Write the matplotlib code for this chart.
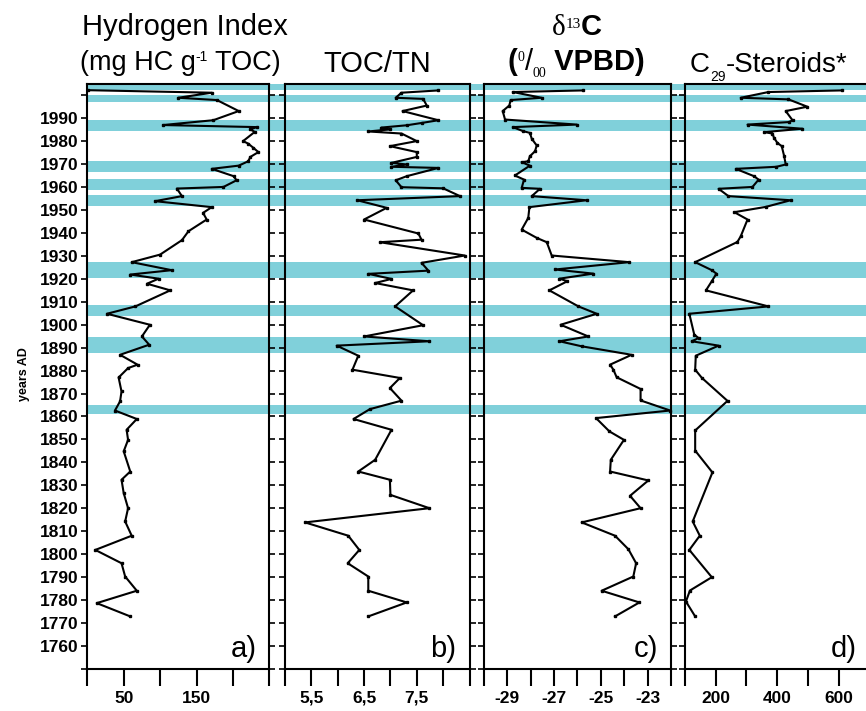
import matplotlib
matplotlib.use("Agg")
import matplotlib.pyplot as plt
from matplotlib.patches import Rectangle
from matplotlib.text import Annotation
from matplotlib import transforms

plt.rcParams['font.family'] = ['Liberation Sans', 'DejaVu Sans']

# ---- data ----
years_hi = [2002.3, 2001.2, 1999.0, 1998.0, 1993.2, 1989.2, 1987.1, 1986.2, 1985.2, 1984.1,
            1980.1, 1979.0, 1977.2, 1975.3, 1973.2, 1971.3, 1969.4, 1968.0, 1964.8, 1963.0,
            1960.1, 1959.4, 1956.1, 1953.9, 1951.3, 1948.8, 1945.9, 1940.8, 1936.9, 1930.6,
            1927.3, 1923.8, 1921.9, 1920.1, 1917.9, 1915.0, 1908.0, 1904.8, 1900.0, 1894.9,
            1891.3, 1886.9, 1882.6, 1881.1, 1877.0, 1870.9, 1866.6, 1862.6, 1858.9, 1854.2,
            1849.8, 1844.8, 1836.0, 1832.4, 1826.6, 1820.0, 1814.2, 1808.0, 1801.8, 1796.0,
            1790.2, 1784.0, 1778.6, 1772.8]
hi = [1, 171, 125, 178, 208, 173, 104, 233, 224, 230,
      214, 221, 228, 235, 224, 221, 208, 171, 201, 205,
      187, 123, 130, 93, 171, 159, 164, 139, 130, 100,
      61, 116, 59, 98, 82, 114, 66, 27, 86, 75,
      85, 45, 69, 56, 43, 47, 45, 38, 68, 54,
      56, 50, 59, 47, 50, 56, 52, 61, 11, 47,
      52, 68, 13, 59]

years_cn = [2002.2, 2001.2, 1999.0, 1998.5, 1995.6, 1993.2, 1989.2, 1988.0, 1987.0, 1986.0,
            1985.2, 1984.3, 1983.4, 1980.1, 1977.9, 1975.3, 1973.2, 1970.6, 1969.9, 1968.9,
            1968.4, 1964.8, 1963.0, 1960.0, 1959.5, 1956.1, 1954.3, 1951.0, 1945.9, 1939.8,
            1937.1, 1936.0, 1930.2, 1927.0, 1923.6, 1922.2, 1920.0, 1918.2, 1915.0, 1908.0,
            1899.8, 1894.9, 1892.8, 1890.9, 1886.5, 1880.4, 1876.8, 1872.4, 1866.9, 1863.2,
            1858.9, 1854.2, 1841.1, 1836.0, 1832.4, 1825.8, 1820.0, 1813.8, 1808.0, 1801.8,
            1796.0, 1790.2, 1784.0, 1778.9, 1772.8]
toc_tn = [7.91, 7.21, 7.10, 7.62, 7.69, 7.23, 7.91, 7.59, 7.31, 6.83,
          6.99, 6.58, 7.21, 7.50, 6.99, 7.50, 7.50, 7.02, 7.31, 7.02,
          7.91, 7.31, 7.10, 7.21, 8.00, 8.32, 6.37, 6.93, 6.50, 7.53,
          7.59, 6.80, 8.41, 7.59, 7.72, 6.58, 7.02, 6.71, 7.43, 7.09,
          7.62, 6.50, 7.74, 5.98, 6.39, 6.28, 7.18, 6.99, 7.21, 6.61,
          6.30, 7.02, 6.71, 6.39, 6.99, 7.00, 7.74, 5.38, 6.20, 6.41,
          6.19, 6.58, 6.58, 7.31, 6.58]

years_c13 = [2002.2, 2001.5, 1999.0, 1998.0, 1995.6, 1993.2, 1989.5, 1987.3, 1986.2, 1984.4,
             1983.7, 1981.1, 1978.2, 1975.7, 1973.5, 1971.3, 1970.9, 1969.4, 1965.1, 1963.3,
             1959.7, 1959.3, 1956.1, 1954.3, 1951.3, 1946.6, 1941.5, 1937.9, 1936.0, 1930.2,
             1927.3, 1924.1, 1922.3, 1920.1, 1919.0, 1915.0, 1908.0, 1904.8, 1900.0, 1894.9,
             1892.8, 1890.6, 1886.9, 1882.6, 1880.4, 1877.1, 1872.0, 1867.0, 1862.6, 1859.3,
             1853.5, 1849.8, 1841.1, 1836.0, 1832.1, 1825.4, 1820.0, 1813.8, 1808.0, 1802.1,
             1796.0, 1790.2, 1784.0, 1778.9, 1772.8]
d13c = [-25.75, -28.76, -27.53, -28.85, -28.91, -29.19, -29.09, -26.03, -28.76, -28.31,
        -28.03, -27.95, -27.74, -27.81, -28.03, -28.10, -28.38, -28.03, -28.67, -28.28,
        -28.38, -27.60, -27.95, -25.61, -28.05, -28.10, -28.38, -27.74, -27.31, -27.10,
        -23.79, -26.96, -25.33, -26.77, -26.43, -27.20, -25.96, -25.18, -26.72, -25.54,
        -26.77, -25.82, -23.69, -24.61, -24.47, -24.33, -23.31, -23.31, -22.05, -25.21,
        -24.64, -24.02, -24.58, -24.61, -22.98, -23.76, -23.31, -25.82, -24.40, -23.83,
        -23.50, -23.62, -24.97, -23.36, -24.40]

years_st = [2002.2, 2001.5, 1999.0, 1998.3, 1995.1, 1993.2, 1989.2, 1988.4, 1987.3, 1985.5,
            1984.0, 1983.4, 1981.5, 1979.3, 1977.9, 1973.5, 1969.9, 1968.9, 1968.0, 1964.8,
            1963.3, 1960.1, 1959.3, 1956.1, 1954.3, 1951.4, 1949.1, 1945.9, 1938.6, 1936.1,
            1927.3, 1923.8, 1922.3, 1919.0, 1915.0, 1908.0, 1904.8, 1895.7, 1894.2, 1892.8,
            1890.9, 1886.5, 1880.4, 1876.8, 1866.8, 1853.9, 1845.1, 1835.6, 1814.2, 1808.0,
            1801.8, 1789.9, 1784.1, 1779.3, 1772.8]
steroids = [610, 372, 282, 437, 498, 428, 450, 439, 304, 482,
            358, 385, 390, 401, 415, 423, 428, 398, 266, 325,
            340, 320, 210, 242, 444, 363, 261, 304, 282, 271,
            134, 188, 203, 188, 169, 372, 115, 131, 145, 123,
            210, 136, 134, 156, 239, 134, 134, 190, 126, 149,
            115, 188, 117, 104, 134]

# shaded periods (start year, end year)
band_start = [2002.3, 1997.1, 1984.5, 1966.7, 1958.7, 1951.6, 1920.4, 1904.0, 1887.8, 1861.0]
band_end = [2004.8, 2000.4, 1989.3, 1971.4, 1963.5, 1956.5, 1927.3, 1908.4, 1894.6, 1865.1]

W, H = 866, 711
fig = plt.figure(figsize=(W / 100, H / 100), dpi=100)

cols = [(87.3, 269.3), (285, 469.5), (483.7, 671.3), (684.7, 869.5)]
bot = (H - 668.7) / H
top = (H - 84) / H
axes = []
for l, r in cols:
    ax = fig.add_axes([l / W, bot, (r - l) / W, top - bot])
    ax.set_facecolor('none')
    axes.append(ax)

series = [(hi, years_hi), (toc_tn, years_cn), (d13c, years_c13), (steroids, years_st)]
xlims = [(0, 250), (5.0, 8.5), (-30, -22), (100, 700)]
xticks = [[0, 50, 100, 150, 200, 250],
          [5.0, 5.5, 6.0, 6.5, 7.0, 7.5, 8.0, 8.5],
          list(range(-30, -21)),
          [100, 200, 300, 400, 500, 600, 700]]
xlabels = [['', '50', '', '150', '', ''],
           ['', '5,5', '', '6,5', '', '7,5', '', ''],
           ['', '-29', '', '-27', '', '-25', '', '-23', ''],
           ['', '200', '', '400', '', '600', '']]
letters = ['a)', 'b)', 'c)', 'd)']
yticks = list(range(1750, 2001, 10))

for i, ax in enumerate(axes):
    vals, yrs = series[i]
    ax.plot(vals, yrs, color='black', lw=1.5, marker='s', ms=1.8, clip_on=False, zorder=3)
    ax.set_xlim(*xlims[i])
    ax.set_ylim(1750, 2005)
    ax.set_xticks(xticks[i])
    ax.set_xticklabels(xlabels[i], fontsize=12.5, fontweight='bold')
    ax.set_yticks(yticks)
    if i == 0:
        ax.set_yticklabels(['' if (y == 1750 or y == 2000) else str(y) for y in yticks],
                           fontsize=12.5, fontweight='bold')
    else:
        ax.set_yticklabels([])
    ax.tick_params(axis='x', direction='out', length=12, width=1.5, pad=4)
    ax.tick_params(axis='y', direction='out', length=4, width=1.2, pad=2,
                   left=True, right=True)
    for s in ax.spines.values():
        s.set_linewidth(1.5)
    wpx = cols[i][1] - cols[i][0]
    ax.text(1 - 13 / wpx, 12 / 584.7, letters[i], transform=ax.transAxes,
            ha='right', va='baseline', fontsize=21)

# cyan bands run across all panels
tr = transforms.blended_transform_factory(fig.transFigure, axes[0].transData)
for y0, y1 in zip(band_start, band_end):
    fig.add_artist(Rectangle((87.3 / W, y0), 1.0, y1 - y0, transform=tr,
                             facecolor='#80D0DA', edgecolor='none', zorder=-1))


def fx(x):
    return x / W


def fy(y):
    return 1 - y / H


def chain(x, y, pieces):
    # write text pieces one after another; each piece is (text, font size, raise in pt, kwargs)
    s, fs, dy, kw = pieces[0]
    prev = fig.text(fx(x), fy(y), s, ha='left', va='baseline', fontsize=fs, **kw)
    prev_dy = dy
    for s, fs, dy, kw in pieces[1:]:
        a = Annotation(s, xy=(1, 0), xycoords=prev, xytext=(0, dy - prev_dy),
                       textcoords='offset points', ha='left', va='bottom',
                       fontsize=fs, **kw)
        fig.add_artist(a)
        prev, prev_dy = a, dy


serif = ['Liberation Serif', 'DejaVu Serif']
bold = dict(fontweight='bold')

fig.text(fx(82), fy(35), 'Hydrogen Index', ha='left', va='baseline', fontsize=21)
chain(80, 70, [('(mg HC g', 19.5, 0, {}),
               ('-1', 10, 8.5, {}),
               (' TOC)', 19.5, 0, {})])
fig.text(fx(377), fy(72), 'TOC/TN', ha='center', va='baseline', fontsize=21)
chain(552, 35, [('\u03b4', 21, 0, dict(family=serif)),
                ('13', 11, 7.5, dict(family=serif)),
                ('C', 21, 0, bold)])
chain(508, 70, [('(', 21, 0, bold),
                ('0', 10, 8.5, dict(family=serif)),
                ('/', 21, 0, {}),
                ('00', 10, -3, dict(family=serif)),
                (' VPBD)', 21, 0, bold)])
chain(690, 72, [('C', 20, 0, {}),
                ('29', 10, -4, {}),
                ('-Steroids*', 20, 0, {})])

fig.text(fx(24), fy(374), 'years AD', rotation=90, ha='center', va='center',
         fontsize=9, fontweight='bold')

fig.savefig('out.png', dpi=100)
